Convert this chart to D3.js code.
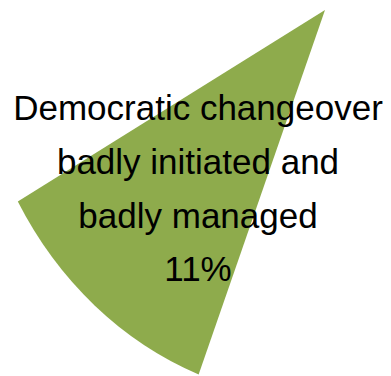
<!DOCTYPE html>
<html>
<head>
<meta charset="utf-8">
<script src="https://cdn.jsdelivr.net/npm/d3@7"></script>
<style>
  html, body { margin: 0; padding: 0; background: #fff; }
  svg { display: block; }
</style>
</head>
<body>
<script>
// Slice data: one segment of the pie, its share in percent
const categories = ["Democratic changeover badly initiated and badly managed"];
const values = [11];
const labelLines = ["Democratic changeover", "badly initiated and", "badly managed"];
const percentLabels = ["11%"];

const width = 391, height = 376;
const cx = 325, cy = 10;          // pie centre (top right corner of the wedge)
const radius = 352.6;
const tilt = 1.107;               // vertical stretch of the pie
const midAngleDeg = 220.8;        // direction the slice points to

const svg = d3.select("body").append("svg")
  .attr("width", width).attr("height", height);

// Percent -> angle
const angle = d3.scaleLinear().domain([0, 100]).range([0, 2 * Math.PI]);
const mid = midAngleDeg * Math.PI / 180;

const arc = d3.arc().innerRadius(0).outerRadius(radius);

const g = svg.append("g")
  .attr("transform", `translate(${cx},${cy}) scale(1,${tilt})`);

g.selectAll("path.slice")
  .data(values)
  .join("path")
  .attr("class", "slice")
  .attr("d", v => arc({
    startAngle: mid - angle(v) / 2,
    endAngle: mid + angle(v) / 2
  }))
  .attr("fill", "#8eab4c");

// Label block
const lines = labelLines.concat(percentLabels);
const textX = 198, firstBaseline = 120, lineGap = 53.8;

svg.append("g")
  .selectAll("text")
  .data(lines)
  .join("text")
  .attr("x", textX)
  .attr("y", (d, i) => firstBaseline + i * lineGap)
  .attr("text-anchor", "middle")
  .attr("font-family", "Liberation Sans, Arial, sans-serif")
  .attr("font-size", 35)
  .attr("fill", "#000")
  .text(d => d);
</script>
</body>
</html>
